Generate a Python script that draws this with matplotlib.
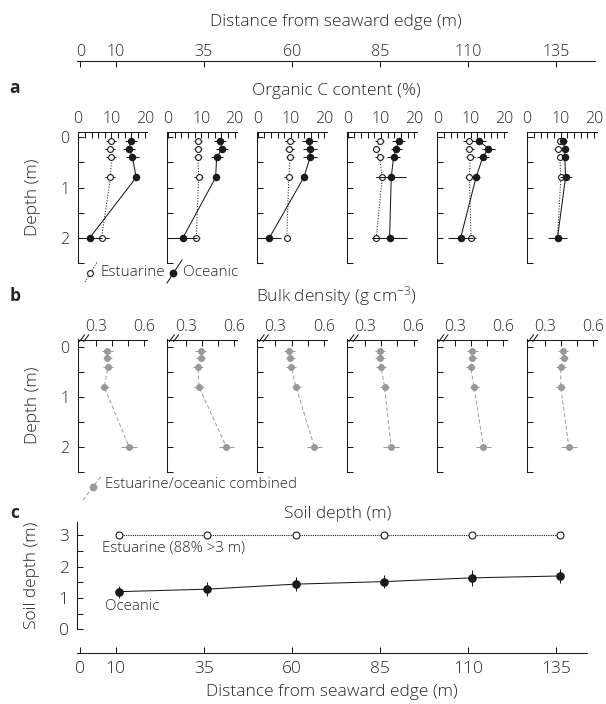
import matplotlib
matplotlib.use("Agg")
import matplotlib.pyplot as plt
from matplotlib.ticker import MultipleLocator, FixedLocator, NullFormatter
from matplotlib.lines import Line2D

plt.rcParams['font.family'] = ['Open Sans', 'DejaVu Sans']
plt.rcParams['font.weight'] = 'light'
plt.rcParams['axes.labelweight'] = 'light'
plt.rcParams['mathtext.default'] = 'regular'
plt.rcParams['text.color'] = '#262626'
plt.rcParams['axes.labelcolor'] = '#262626'
plt.rcParams['axes.edgecolor'] = '#1a1a1a'
plt.rcParams['xtick.color'] = '#1a1a1a'
plt.rcParams['ytick.color'] = '#1a1a1a'
plt.rcParams['xtick.labelcolor'] = '#262626'
plt.rcParams['ytick.labelcolor'] = '#262626'

# ---------------- data ----------------
distances = [10, 35, 60, 85, 110, 135]
depth = [0.075, 0.225, 0.4, 0.8, 2.0]

orgc_oceanic_1 = [15.8, 15.3, 16.3, 17.4, 3.5]
orgc_oceanic_2 = [15.6, 16.3, 14.6, 14.3, 4.5]
orgc_oceanic_3 = [15.5, 15.7, 15.7, 13.8, 3.5]
orgc_oceanic_4 = [15.3, 14.6, 13.8, 13.1, 12.6]
orgc_oceanic_5 = [12.6, 15.3, 13.6, 11.6, 7.0]
orgc_oceanic_6 = [10.8, 11.3, 11.3, 11.5, 9.1]
orgc_oceanic_err_1 = [1.8, 1.8, 2.0, 0.5, 3.6]
orgc_oceanic_err_2 = [1.8, 1.8, 1.8, 0.5, 4.3]
orgc_oceanic_err_3 = [2.2, 2.0, 2.2, 0.5, 3.5]
orgc_oceanic_err_4 = [2.0, 1.6, 2.0, 4.5, 5.2]
orgc_oceanic_err_5 = [2.0, 2.0, 1.8, 1.2, 3.8]
orgc_oceanic_err_6 = [1.0, 1.0, 1.0, 1.8, 2.8]

orgc_estuarine_1 = [10.0, 9.7, 10.0, 9.7, 7.0]
orgc_estuarine_2 = [9.0, 9.0, 9.0, 9.2, 8.5]
orgc_estuarine_3 = [9.8, 9.5, 9.7, 9.3, 8.7]
orgc_estuarine_4 = [9.6, 8.6, 9.6, 10.4, 8.6]
orgc_estuarine_5 = [9.6, 9.6, 9.9, 9.6, 10.1]
orgc_estuarine_6 = [9.8, 9.3, 9.8, 10.1, 9.1]
orgc_estuarine_err_1 = [1.5, 1.5, 1.5, 1.5, 2.2]
orgc_estuarine_err_2 = [1.3, 1.3, 1.3, 1.3, 1.0]
orgc_estuarine_err_3 = [1.5, 1.3, 1.3, 1.3, 0.5]
orgc_estuarine_err_4 = [1.3, 1.0, 1.3, 1.8, 1.3]
orgc_estuarine_err_5 = [1.8, 1.3, 1.3, 1.3, 1.5]
orgc_estuarine_err_6 = [1.0, 1.3, 1.0, 1.0, 0.5]

bulk_density_1 = [0.372, 0.372, 0.376, 0.352, 0.507]
bulk_density_2 = [0.393, 0.393, 0.376, 0.383, 0.553]
bulk_density_3 = [0.387, 0.393, 0.397, 0.428, 0.542]
bulk_density_4 = [0.393, 0.393, 0.399, 0.420, 0.461]
bulk_density_5 = [0.408, 0.408, 0.397, 0.418, 0.476]
bulk_density_6 = [0.412, 0.416, 0.399, 0.399, 0.449]
bulk_density_err = [0.032, 0.030, 0.030, 0.028, 0.048]

soil_x = [11, 36, 61, 86, 111, 136]
soil_estuarine = [3.0, 3.0, 3.0, 3.0, 3.0, 3.0]
soil_oceanic = [1.20, 1.28, 1.44, 1.52, 1.64, 1.70]
soil_oceanic_err = [0.19, 0.23, 0.23, 0.21, 0.25, 0.23]

orgc_oceanic = [orgc_oceanic_1, orgc_oceanic_2, orgc_oceanic_3,
                orgc_oceanic_4, orgc_oceanic_5, orgc_oceanic_6]
orgc_oceanic_err = [orgc_oceanic_err_1, orgc_oceanic_err_2, orgc_oceanic_err_3,
                    orgc_oceanic_err_4, orgc_oceanic_err_5, orgc_oceanic_err_6]
orgc_estuarine = [orgc_estuarine_1, orgc_estuarine_2, orgc_estuarine_3,
                  orgc_estuarine_4, orgc_estuarine_5, orgc_estuarine_6]
orgc_estuarine_err = [orgc_estuarine_err_1, orgc_estuarine_err_2, orgc_estuarine_err_3,
                      orgc_estuarine_err_4, orgc_estuarine_err_5, orgc_estuarine_err_6]
bulk_density = [bulk_density_1, bulk_density_2, bulk_density_3,
                bulk_density_4, bulk_density_5, bulk_density_6]

# ---------------- layout helpers ----------------
W, H = 606, 704
fig = plt.figure(figsize=(W / 100, H / 100), dpi=100)


def rect(left, top, width, height):
    return [left / W, 1 - (top + height) / H, width / W, height / H]


BLACK = '#1a1a1a'
GREY = '#999999'
TICK_FS = 11.5
TITLE_FS = 12.5
LW = 0.75
DIST_LIM = (-0.99, 146.0)

# top distance axis
axd = fig.add_axes(rect(77, 61, 518, 10))
axd.set_xlim(*DIST_LIM)
for s in ['left', 'right', 'bottom']:
    axd.spines[s].set_visible(False)
axd.spines['top'].set_linewidth(LW)
axd.xaxis.tick_top()
axd.set_xticks([0] + distances)
axd.set_yticks([])
axd.tick_params(axis='x', direction='in', length=4, width=LW, pad=1, labelsize=TICK_FS)
axd.patch.set_visible(False)

lefts = [77.5 + 89.8 * i for i in range(6)]


def style_profile(ax, first):
    for s in ['right', 'bottom']:
        ax.spines[s].set_visible(False)
    for s in ['top', 'left']:
        ax.spines[s].set_linewidth(LW)
    ax.xaxis.tick_top()
    ax.yaxis.set_major_locator(FixedLocator([0, 1, 2]))
    ax.yaxis.set_minor_locator(FixedLocator([0.5, 1.5, 2.5]))
    ax.tick_params(axis='both', which='both', direction='in', length=4, width=LW)
    ax.tick_params(axis='x', labelsize=TICK_FS)
    ax.tick_params(axis='y', labelsize=TICK_FS, pad=6)
    if not first:
        ax.yaxis.set_major_formatter(NullFormatter())
    ax.patch.set_visible(False)


# panel a
for i in range(6):
    ax = fig.add_axes(rect(lefts[i], 132.3, 70, 130.5))
    ax.set_xlim(-0.2, 20.8)
    ax.set_ylim(2.5, -0.1)
    style_profile(ax, i == 0)
    ax.xaxis.set_major_locator(FixedLocator([0, 10, 20]))
    ax.xaxis.set_minor_locator(MultipleLocator(2))
    ax.tick_params(axis='x', pad=4)
    ax.errorbar(orgc_estuarine[i], depth, xerr=orgc_estuarine_err[i], fmt='o',
                ls=(0, (1, 1.6)), lw=LW, color=BLACK, ecolor=BLACK, elinewidth=LW,
                ms=4.2, mfc='white', mec=BLACK, mew=0.8, capsize=0, zorder=3)
    ax.errorbar(orgc_oceanic[i], depth, xerr=orgc_oceanic_err[i], fmt='o',
                ls='-', lw=LW, color=BLACK, ecolor=BLACK, elinewidth=LW,
                ms=4.4, mfc=BLACK, mec=BLACK, capsize=0, zorder=4)
    if i == 0:
        ax.set_ylabel('Depth (m)', fontsize=TITLE_FS)
        ax.yaxis.set_label_coords(-0.52, 0.5)

# panel b
for i in range(6):
    ax = fig.add_axes(rect(lefts[i], 339.5, 70, 132.5))
    ax.set_xlim(0.186, 0.621)
    ax.set_ylim(2.5, -0.15)
    style_profile(ax, i == 0)
    ax.xaxis.set_major_locator(FixedLocator([0.3, 0.6]))
    ax.xaxis.set_minor_locator(FixedLocator([0.4, 0.5]))
    ax.xaxis.set_major_formatter(plt.FuncFormatter(lambda v, p: f'{v:.1f}'))
    ax.tick_params(axis='x', pad=3)
    ax.errorbar(bulk_density[i], depth, xerr=bulk_density_err, fmt='o',
                ls=(0, (4, 2.5)), lw=0.7, color=GREY, ecolor=GREY, elinewidth=LW,
                ms=4.0, mfc=GREY, mec=GREY, capsize=0, zorder=3)
    # axis break marks
    for dx in (0.03, 0.09):
        ax.plot([dx, dx + 0.07], [0.985, 1.035], transform=ax.transAxes,
                color=BLACK, lw=LW, clip_on=False)
    if i == 0:
        ax.set_ylabel('Depth (m)', fontsize=TITLE_FS)
        ax.yaxis.set_label_coords(-0.52, 0.5)

# panel c
axc = fig.add_axes(rect(77, 521.7, 510, 131))
axc.set_xlim(DIST_LIM[0], 143.7)
axc.set_ylim(-0.745, 3.43)
for s in ['right', 'top']:
    axc.spines[s].set_visible(False)
axc.spines['left'].set_bounds(0, 3.43)
axc.spines['left'].set_linewidth(LW)
axc.spines['bottom'].set_linewidth(LW)
axc.set_xticks([0] + distances)
axc.yaxis.set_major_locator(FixedLocator([0, 1, 2, 3]))
axc.yaxis.set_minor_locator(FixedLocator([0.5, 1.5, 2.5]))
axc.tick_params(axis='both', which='both', direction='in', length=4, width=LW,
                labelsize=12.5)
axc.tick_params(axis='x', pad=6)
axc.tick_params(axis='y', pad=6)
axc.patch.set_visible(False)
axc.plot(soil_x, soil_estuarine, ls=(0, (1, 1)), lw=0.8, color=BLACK,
         marker='o', ms=5.0, mfc='white', mec=BLACK, mew=0.8, zorder=3)
axc.errorbar(soil_x, soil_oceanic, yerr=soil_oceanic_err, fmt='o', ls='-', lw=LW,
             color=BLACK, ecolor=BLACK, elinewidth=LW, ms=5.2, capsize=0, zorder=4)
axc.set_xlabel('Distance from seaward edge (m)', fontsize=12.5, labelpad=5)
axc.set_ylabel('Soil depth (m)', fontsize=12.5)
axc.yaxis.set_label_coords(-0.0725, 0.593)

# ---------------- overlay text & legend glyphs (pixel coords) ----------------
ov = fig.add_axes([0, 0, 1, 1])
ov.set_xlim(0, W)
ov.set_ylim(H, 0)
ov.axis('off')

ov.text(336, 21.7, 'Distance from seaward edge (m)', ha='center', va='center', fontsize=TITLE_FS)
ov.text(15, 88, 'a', ha='center', va='center', fontsize=12.5, fontweight='bold')
ov.text(336, 91, 'Organic C content (%)', ha='center', va='center', fontsize=TITLE_FS)
ov.text(15, 296, 'b', ha='center', va='center', fontsize=12.5, fontweight='bold')
ov.text(336, 296.5, r'Bulk density (g cm$^{-3}$)', ha='center', va='center',
        fontsize=TITLE_FS)
ov.text(15, 513, 'c', ha='center', va='center', fontsize=12.5, fontweight='bold')
ov.text(338, 514, 'Soil depth (m)', ha='center', va='center', fontsize=TITLE_FS)

# legend a
ov.add_line(Line2D([85, 97], [282, 262], ls=(0, (1, 1.6)), lw=LW, color=BLACK))
ov.plot([90], [273], 'o', ms=4.2, mfc='white', mec=BLACK, mew=0.8)
ov.text(100, 273, 'Estuarine', ha='left', va='center', fontsize=11)
ov.add_line(Line2D([167, 182], [283, 260], ls='-', lw=LW, color=BLACK))
ov.plot([173], [273], 'o', ms=4.6, mfc=BLACK, mec=BLACK)
ov.text(183, 273, 'Oceanic', ha='left', va='center', fontsize=11)

# legend b
ov.add_line(Line2D([83, 102], [500, 475], ls=(0, (4, 2.5)), lw=0.7, color=GREY))
ov.plot([93], [487], 'o', ms=4.6, mfc=GREY, mec=GREY)
ov.text(105, 485, 'Estuarine/oceanic combined', ha='left', va='center', fontsize=10.8)

# panel c annotations
ov.text(102.5, 549, 'Estuarine (88% >3 m)', ha='left', va='center', fontsize=10.8)
ov.text(105, 607, 'Oceanic', ha='left', va='center', fontsize=10.8)

fig.savefig('out.png', dpi=100)
